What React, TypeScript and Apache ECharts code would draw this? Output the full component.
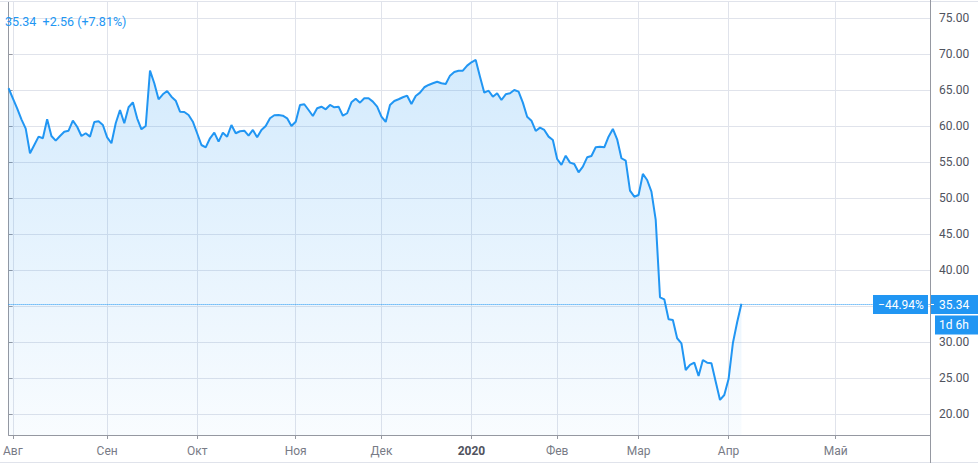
import React, { useRef, useEffect } from 'react';
import * as echarts from 'echarts';

// daily closes, one per bar (left edge = first bar)
const closes: number[] = [
  65.28, 63.89, 62.5, 60.97, 59.67, 56.25, 57.4, 58.56, 58.33, 60.97,
  58.65, 58.0, 58.65, 59.25, 59.39, 60.78, 59.94, 58.65, 59.03, 58.56,
  60.6, 60.69, 60.18, 58.47, 57.64, 60.42, 62.26, 60.42, 62.64, 63.33,
  61.11, 59.58, 60.04, 67.72, 65.97, 63.75, 64.44, 64.9, 64.11, 63.56,
  62.03, 61.99, 61.57, 60.64, 59.03, 57.4, 57.08, 58.33, 59.11, 57.86,
  59.11, 58.56, 60.18, 59.03, 59.31, 59.39, 58.7, 59.49, 58.47, 59.49,
  60.04, 61.11, 61.53, 61.57, 61.47, 61.11, 60.04, 60.64, 62.96, 63.06,
  62.26, 61.43, 62.5, 62.72, 62.36, 62.96, 62.64, 62.72, 61.47, 61.81,
  63.33, 63.83, 63.28, 63.89, 63.89, 63.42, 62.72, 61.33, 60.6, 62.96,
  63.51, 63.75, 64.03, 64.25, 63.1, 64.21, 64.67, 65.42, 65.74, 65.97,
  66.19, 65.97, 65.88, 67.03, 67.54, 67.72, 67.72, 68.42, 68.89, 69.21,
  66.89, 64.67, 64.94, 64.11, 64.58, 63.65, 64.44, 64.58, 65.04, 64.81,
  63.28, 61.33, 60.78, 59.35, 59.81, 59.49, 58.56, 58.1, 55.46, 54.63,
  55.92, 54.95, 54.76, 53.61, 54.39, 55.69, 55.88, 57.08, 57.17, 57.08,
  58.56, 59.63, 58.19, 55.56, 55.22, 51.06, 50.22, 50.46, 53.38, 52.54,
  50.92, 46.99, 36.25, 35.97, 33.19, 33.1, 30.56, 29.86, 26.15, 26.85,
  27.17, 25.32, 27.54, 27.17, 27.08, 24.53, 21.99, 22.68, 24.9, 29.86,
  32.78, 35.34,
];

// bar index of the first bar of each month
const monthTicks: number[] = [1, 23, 44, 67, 87, 108, 128, 147, 168, 193];
const monthNames: string[] = ['Авг', 'Сен', 'Окт', 'Ноя', 'Дек', '2020', 'Фев', 'Мар', 'Апр', 'Май'];

const yTicks: number[] = [20, 25, 30, 35, 40, 45, 50, 55, 60, 65, 70, 75];
// 35.00 sits under the price tag, so it gets no label
const yLabels: number[] = [20, 25, 30, 40, 45, 50, 55, 60, 65, 70, 75];

const periodChange = '\u221244.94%';
const dayChange = '+2.56 (+7.81%)';
const countdown = '1d 6h';

const BLUE = '#2196f3';
const FONT = 'Roboto, "Noto Sans", sans-serif';

const App: React.FC = () => {
  const chartRef = useRef<HTMLDivElement>(null);

  useEffect(() => {
    if (!chartRef.current) return;
    const chart = echarts.init(chartRef.current, null, { renderer: 'svg' });
    const last = closes[closes.length - 1];

    const option: echarts.EChartsOption = {
      animation: false,
      backgroundColor: '#ffffff',
      grid: { left: 0, right: 48, top: 2, bottom: 33, containLabel: false },
      xAxis: {
        type: 'value',
        min: 0,
        max: 215,
        axisLine: { show: true, lineStyle: { color: '#9598a1' } },
        axisTick: { show: true, customValues: monthTicks, length: 4, lineStyle: { color: '#9598a1' } },
        axisLabel: {
          customValues: monthTicks,
          margin: 10,
          color: '#787b86',
          fontSize: 12,
          fontFamily: FONT,
          alignMinLabel: 'center',
          alignMaxLabel: 'center',
          formatter: (v: number) => {
            const i = monthTicks.indexOf(Math.round(v));
            const name = i >= 0 ? monthNames[i] : '';
            return name === '2020' ? '{b|2020}' : name;
          },
          rich: { b: { fontWeight: 'bold', color: '#50535e', fontSize: 12, fontFamily: FONT } },
        },
        splitLine: { show: true, lineStyle: { color: '#e0e3eb' } },
      },
      yAxis: {
        type: 'value',
        position: 'right',
        min: 17.125,
        max: 77.26,
        splitNumber: 12,
        minInterval: 5,
        maxInterval: 5,
        axisLine: { show: true, lineStyle: { color: '#9598a1' } },
        axisTick: { show: true, length: 4, customValues: yTicks, lineStyle: { color: '#9598a1' } },
        axisLabel: {
          customValues: yLabels,
          margin: 9,
          color: '#50535e',
          fontSize: 12,
          fontFamily: FONT,
          formatter: (v: number) => v.toFixed(2),
        },
        splitLine: { show: true, lineStyle: { color: '#e0e3eb' } },
      },
      series: [
        {
          type: 'line',
          data: closes.map((c, i) => [i, c]),
          showSymbol: false,
          symbol: 'none',
          lineStyle: { color: BLUE, width: 2 },
          areaStyle: {
            color: new echarts.graphic.LinearGradient(0, 0, 0, 1, [
              { offset: 0, color: 'rgba(33,150,243,0.28)' },
              { offset: 1, color: 'rgba(33,150,243,0.04)' },
            ]),
          },
          markLine: {
            silent: true,
            symbol: 'none',
            label: { show: false },
            lineStyle: { color: BLUE, type: [1, 1], width: 1, opacity: 1 },
            data: [{ yAxis: last }],
          },
        },
      ],
    };
    chart.setOption(option);

    const py = Math.round((chart.convertToPixel({ gridIndex: 0 }, [closes.length - 1, last]) as number[])[1]) + 0.5;
    const txt = { fill: '#ffffff', fontSize: 12, fontFamily: FONT, verticalAlign: 'middle' as const };

    chart.setOption({
      graphic: [
        { type: 'line', z: 50, shape: { x1: 0, y1: 1.5, x2: 978, y2: 1.5 }, style: { stroke: '#e0e3eb', lineWidth: 1 } },
        { type: 'line', z: 50, shape: { x1: 0, y1: 462.5, x2: 978, y2: 462.5 }, style: { stroke: '#e0e3eb', lineWidth: 1 } },
        { type: 'line', z: 50, shape: { x1: 930.5, y1: 0, x2: 930.5, y2: 463 }, style: { stroke: '#9598a1', lineWidth: 1 } },
        {
          type: 'text', z: 60, x: 5, y: 21,
          style: { text: `${last.toFixed(2)}  ${dayChange}`, fill: BLUE, fontSize: 12.5, fontFamily: FONT, verticalAlign: 'middle' },
        },
        { type: 'rect', z: 60, shape: { x: 873, y: py - 9.5, width: 55, height: 19 }, style: { fill: BLUE } },
        { type: 'text', z: 61, x: 901, y: py, style: { ...txt, text: periodChange, align: 'center' } },
        { type: 'rect', z: 60, shape: { x: 931, y: py - 9.5, width: 47, height: 19 }, style: { fill: BLUE } },
        { type: 'line', z: 61, shape: { x1: 931, y1: py, x2: 934, y2: py }, style: { stroke: '#ffffff', lineWidth: 1 } },
        { type: 'text', z: 61, x: 939, y: py, style: { ...txt, text: last.toFixed(2), align: 'left' } },
        { type: 'rect', z: 60, shape: { x: 935, y: py + 11, width: 43, height: 19 }, style: { fill: BLUE } },
        { type: 'text', z: 61, x: 939, y: py + 20.5, style: { ...txt, text: countdown, align: 'left' } },
      ],
    });

    const handleResize = () => chart.resize();
    window.addEventListener('resize', handleResize);
    return () => {
      window.removeEventListener('resize', handleResize);
      chart.dispose();
    };
  }, []);

  return (
    <div
      ref={chartRef}
      style={{ position: 'fixed', left: 0, top: 0, width: 978, height: 468, background: '#fff' }}
    />
  );
};

export default App;
